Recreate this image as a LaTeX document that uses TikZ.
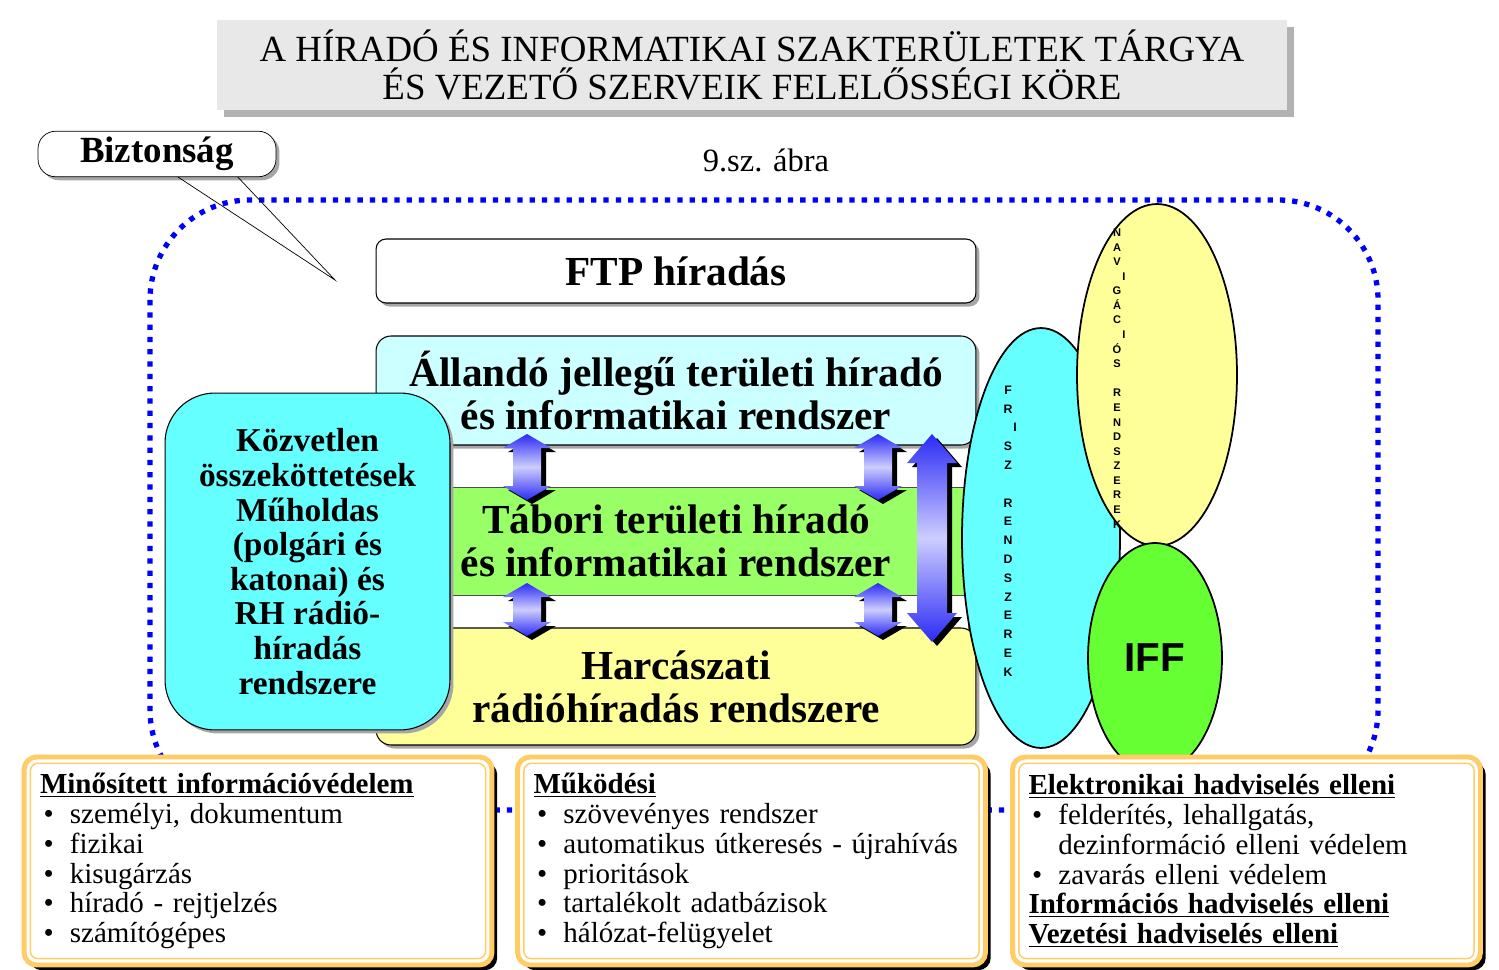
\documentclass[tikz,border=0pt]{standalone}
\usepackage{fontspec}
\setmainfont{Liberation Serif}
\setsansfont{Liberation Sans}
\usepackage{tikz}
\usetikzlibrary{shapes.geometric,shadows}

\definecolor{lcyan}{HTML}{CCFFFF}
\definecolor{kcyan}{HTML}{66FFFF}
\definecolor{tgreen}{HTML}{99FF66}
\definecolor{hyellow}{HTML}{FFFF99}
\definecolor{iffgreen}{HTML}{66FF33}
\definecolor{gold}{HTML}{FFCC66}
\definecolor{arrdark}{HTML}{2B2BF5}
\definecolor{arrlight}{HTML}{CDCDFF}

% #1 x, #2 top tip, #3 bottom tip, #4 half head, #5 half shaft, #6 head length
\newcommand{\blockarrow}[6]{%
  \fill[black, shift={(5,4)}] (#1,#2) -- (#1+#4,#2+#6) -- (#1+#5,#2+#6) -- (#1+#5,#3-#6) -- (#1+#4,#3-#6) -- (#1,#3)
    -- (#1-#4,#3-#6) -- (#1-#5,#3-#6) -- (#1-#5,#2+#6) -- (#1-#4,#2+#6) -- cycle;
  \shade[top color=arrdark, bottom color=arrdark, middle color=arrlight] (#1,#2) -- (#1+#4,#2+#6) -- (#1+#5,#2+#6) -- (#1+#5,#3-#6) -- (#1+#4,#3-#6) -- (#1,#3)
    -- (#1-#4,#3-#6) -- (#1-#5,#3-#6) -- (#1-#5,#2+#6) -- (#1-#4,#2+#6) -- cycle;
}
\newcommand{\itm}{\makebox[17pt][l]{\hspace{2pt}\textbullet}}

\begin{document}
\begin{tikzpicture}[x=0.02cm, y=-0.02cm,
    shade box/.style = {drop shadow={shadow xshift=2pt, shadow yshift=-2pt, fill=gray!70, opacity=1}},
    box/.style = {draw, line width=0.6pt, rounded corners=0.3cm, minimum width=12cm, shade box},
    bigtext/.style = {font=\bfseries\fontsize{23.5}{24.4}\selectfont, align=center},
    ell/.style = {draw, ellipse, line width=1pt, inner sep=0pt},
    letters/.style = {font=\sffamily\bfseries\fontsize{7}{10.7}\selectfont, align=center, inner sep=0pt},
    goldbox/.style = {draw=gold, line width=2.8pt, fill=white, rounded corners=0.25cm,
      minimum width=9.36cm, minimum height=4.16cm, text width=8.72cm, inner xsep=0.32cm,
      align=left, font=\fontsize{16.5}{17}\selectfont,
      drop shadow={shadow xshift=3pt, shadow yshift=-3pt, fill=black, opacity=1}},
    frame/.style = {blue, line width=3pt, dash pattern=on 3pt off 4pt, rounded corners=2cm}]
  \useasboundingbox (0,0) rectangle (1499,970);

  % title
  \node[fill=gray!18, minimum width=21.42cm, minimum height=1.8cm, align=center,
    font=\fontsize{21}{22}\selectfont,
    drop shadow={shadow xshift=4pt, shadow yshift=-4pt, fill=gray!60, opacity=1}] (title) at (752,65)
    {A HÍRADÓ ÉS INFORMATIKAI SZAKTERÜLETEK TÁRGYA\\ÉS VEZETŐ SZERVEIK FELELŐSSÉGI KÖRE};
  \node[font=\fontsize{18.5}{20}\selectfont] (abra) at (766,160) {9.sz. ábra};

  % dotted frame
  \draw[frame] (150,200) rectangle (1378,810);

  % callout
  \node[draw, fill=white, rounded corners=0.35cm, minimum width=4.76cm, minimum height=0.84cm,
    font=\bfseries\fontsize{21}{22}\selectfont, shade box] (bizt) at (157,154) {Biztonság};
  \coordinate (tip) at (335,280);
  \draw ([xshift=12pt]bizt.south) -- (tip) -- ([xshift=46pt]bizt.south);

  % layers
  \node[box, fill=white, rounded corners=0.2cm, minimum height=1.28cm, bigtext] (ftp) at (676,271) {FTP híradás};
  \draw[fill=white, draw=gray] (376,440) rectangle (968,632);
  \node[box, fill=lcyan, minimum height=2.18cm, bigtext] (allando) at (676,390.5)
    {Állandó jellegű területi híradó\\és informatikai rendszer};
  \node[draw=black!70, line width=0.5pt, fill=tgreen, minimum width=11.56cm, minimum height=2.16cm,
    bigtext] (tabori) at (676,541) {Tábori területi híradó\\és informatikai rendszer};
  \node[box, fill=hyellow, minimum height=2.34cm, bigtext] (harc) at (676,686.5)
    {Harcászati\\rádióhíradás rendszere};
  \node[draw, line width=0.6pt, fill=kcyan, rounded corners=1cm, minimum width=5.7cm, minimum height=6.74cm,
    align=center, font=\bfseries\fontsize{19}{19.7}\selectfont, shade box] (kozv) at (307.5,561.5)
    {Közvetlen\\összeköttetések\\Műholdas\\(polgári és\\katonai) és\\RH rádió-\\híradás\\rendszere};

  % arrows between the layers
  \blockarrow{527}{434}{500}{24}{14}{14}
  \blockarrow{878}{434}{500}{24}{14}{14}
  \blockarrow{527}{583}{636}{24}{14}{14}
  \blockarrow{878}{583}{636}{24}{14}{14}
  \blockarrow{932}{434}{642}{25}{15}{29}

  % ellipses
  \node[ell, fill=kcyan, minimum width=3.16cm, minimum height=8.4cm] (frisz) at (1041,538) {};
  \node[ell, fill=hyellow, minimum width=3.2cm, minimum height=6.84cm] (nav) at (1157,375) {};
  \node[ell, fill=iffgreen, minimum width=2.68cm, minimum height=4.6cm,
    font=\sffamily\bfseries\fontsize{23}{23}\selectfont] (iff) at (1155,658) {IFF};
  \node[letters] (friszt) at (1008,531)
    {F\\R\\\hspace*{8pt}I\\S\\Z\\\mbox{}\\R\\E\\N\\D\\S\\Z\\E\\R\\E\\K};
  \node[letters, font=\sffamily\bfseries\fontsize{6.3}{8.3}\selectfont] (navt) at (1117,378.5)
    {N\\A\\V\\\hspace*{8pt}I\\G\\Á\\C\\\hspace*{8pt}I\\Ó\\S\\\mbox{}\\R\\E\\N\\D\\S\\Z\\E\\R\\E\\K};

  % bottom boxes
  \node[goldbox] (minos) at (258,861)
    {\underline{\textbf{Minősített információvédelem}}\\
     \itm személyi, dokumentum\\
     \itm fizikai\\
     \itm kisugárzás\\
     \itm híradó - rejtjelzés\\
     \itm számítógépes};
  \node[goldbox] (mukod) at (751.5,861)
    {\underline{\textbf{Működési}}\\
     \itm szövevényes rendszer\\
     \itm automatikus útkeresés - újrahívás\\
     \itm prioritások\\
     \itm tartalékolt adatbázisok\\
     \itm hálózat-felügyelet};
  \node[goldbox] (elek) at (1246.5,861)
    {\underline{\textbf{Elektronikai hadviselés elleni}}\\
     \itm felderítés, lehallgatás,\\
     \hspace*{17pt}dezinformáció elleni védelem\\
     \itm zavarás elleni védelem\\
     \underline{\textbf{Információs hadviselés elleni}}\\
     \underline{\textbf{Vezetési hadviselés elleni}}};
  \foreach \b in {minos,mukod,elek}
    \draw[gold, line width=0.8pt, rounded corners=0.15cm] ([shift={(5pt,-5pt)}]\b.north west) rectangle ([shift={(-5pt,5pt)}]\b.south east);
\end{tikzpicture}
\end{document}
